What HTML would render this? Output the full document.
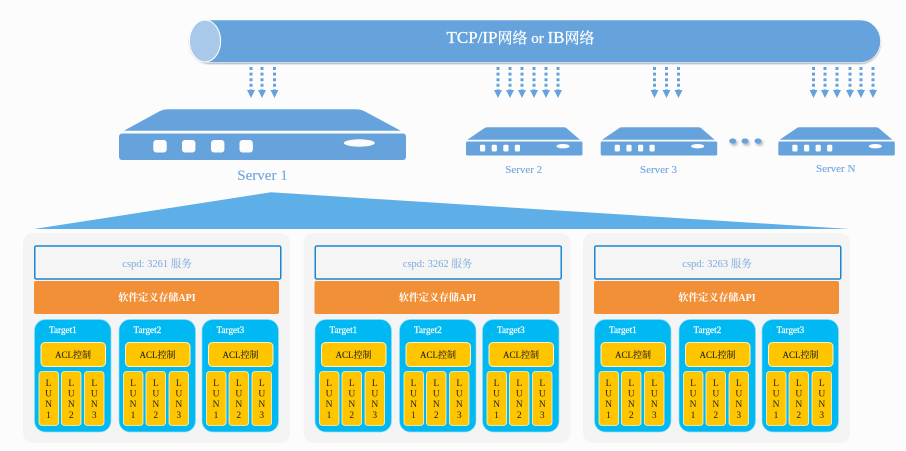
<!DOCTYPE html>
<html lang="zh">
<head>
<meta charset="utf-8">
<title>Storage Architecture</title>
<style>
html,body{margin:0;padding:0;background:#fcfcfd;width:906px;height:451px;overflow:hidden}
svg{display:block}
text{font-family:"Liberation Serif","Noto Serif CJK SC",serif}
.srv{fill:#66a3dc}
.w{fill:#fcfcfd}
.lab{fill:#6ea6dc;text-anchor:middle;stroke:#6ea6dc;stroke-width:.12}
.panel{fill:#f4f4f4}
.svc{fill:#f5f5f5;stroke:#1c86d2;stroke-width:1.5}
.svct{fill:#7ba8dc;font-size:10.5px;text-anchor:middle}
.api{fill:#f29038}
.apit{fill:#fff;font-size:10px;font-weight:bold;text-anchor:middle}
.tg{fill:#00b9f2;stroke:#8fdcf7;stroke-width:.7}
.tt{fill:#fff;font-size:9.200px;stroke:#fff;stroke-width:.2}
.acl{fill:#ffc600;stroke:#fff2c4;stroke-width:1}
.aclt{fill:#222;font-size:9px;text-anchor:middle;stroke:#222;stroke-width:.1}
.l{fill:#ffc600;stroke:#fff2c4;stroke-width:.8}
.lt{fill:#222;font-size:9.500px;text-anchor:middle}
.dash{stroke:#66a3dc;stroke-width:3;stroke-dasharray:3 2.600;fill:none}
.head{fill:#66a3dc}
</style>
</head>
<body>
<svg width="906" height="451" viewBox="0 0 906 451" xmlns="http://www.w3.org/2000/svg">
<defs>
<filter id="sh" x="-5%" y="-20%" width="110%" height="150%"><feDropShadow dx="0" dy="1.200" stdDeviation="0.800" flood-color="#777" flood-opacity=".6"/></filter>
<filter id="sd" x="-60%" y="-60%" width="260%" height="300%"><feDropShadow dx="1.500" dy="2" stdDeviation="1.200" flood-color="#777" flood-opacity=".55"/></filter>
</defs>
<rect width="906" height="451" fill="#fcfcfd"/>

<!-- Network cylinder -->
<rect x="189.500" y="20" width="691" height="42.500" rx="20" ry="21" fill="#66a3dc" stroke="#fff" stroke-width=".6" filter="url(#sh)"/>
<ellipse cx="205" cy="41" rx="15.600" ry="21" fill="#a9c9ea" stroke="#fff" stroke-width="1"/>
<text x="520.500" y="43" fill="#fff" stroke="#fff" stroke-width=".25" text-anchor="middle"><tspan font-size="17">TCP/IP</tspan><tspan font-size="15">网络</tspan><tspan font-size="15"> or </tspan><tspan font-size="17">IB</tspan><tspan font-size="15">网络</tspan></text>

<!-- Arrows -->
<g class="dash">
<path d="M251 67V90M262 67V90M274.500 67V90"/>
<path d="M498 67V90M510 67V90M522 67V90M534 67V90M546 67V90M558 67V90"/>
<path d="M654.500 67V90M666.500 67V90M678.500 67V90"/>
<path d="M813.500 67V90M825 67V90M837 67V90M850 67V90M861 67V90M873 67V90"/>
</g>
<g class="head">
<path d="M247 90h8l-4 8zM258 90h8l-4 8zM270.500 90h8l-4 8z"/>
<path d="M494 90h8l-4 8zM506 90h8l-4 8zM518 90h8l-4 8zM530 90h8l-4 8zM542 90h8l-4 8zM554 90h8l-4 8z"/>
<path d="M650.500 90h8l-4 8zM662.500 90h8l-4 8zM674.500 90h8l-4 8z"/>
<path d="M809.500 90h8l-4 8zM821 90h8l-4 8zM833 90h8l-4 8zM846 90h8l-4 8zM857 90h8l-4 8zM869 90h8l-4 8z"/>
</g>

<!-- Server 1 -->
<path class="srv" d="M124 130.700L160 111Q164 109.300 168 109.300H355Q360 109.300 364 111L400.700 130.700Z"/>
<rect class="srv" x="119" y="133.500" width="287" height="26.500" rx="3"/>
<g class="w">
<rect x="153.300" y="140" width="13.400" height="12.500" rx="3"/>
<rect x="182" y="140" width="13.400" height="12.500" rx="3"/>
<rect x="211" y="140" width="13.400" height="12.500" rx="3"/>
<rect x="239.500" y="140" width="13.400" height="12.500" rx="3"/>
<ellipse cx="359.300" cy="143" rx="15.500" ry="3.700"/>
</g>
<text class="lab" x="262.500" y="180" font-size="15">Server 1</text>

<!-- Server 2 -->
<g>
<path class="srv" d="M467.300 139.700L485 127.800Q486 127.300 488 127.300H563Q565 127.300 566 127.800L580 139.700Z"/>
<rect class="srv" x="466" y="141.500" width="116.500" height="14" rx="1.500"/>
<g class="w"><rect x="480" y="144.700" width="5.200" height="6.800" rx="1.200"/><rect x="491.700" y="144.700" width="5.200" height="6.800" rx="1.200"/><rect x="503.300" y="144.700" width="5.200" height="6.800" rx="1.200"/><rect x="514.800" y="144.700" width="5.200" height="6.800" rx="1.200"/><ellipse cx="563" cy="146.200" rx="6.500" ry="2.200"/></g>
</g>
<text class="lab" x="523.700" y="173" font-size="11">Server 2</text>

<!-- Server 3 -->
<g transform="translate(134.700 0)">
<path class="srv" d="M467.300 139.700L485 127.800Q486 127.300 488 127.300H563Q565 127.300 566 127.800L580 139.700Z"/>
<rect class="srv" x="466" y="141.500" width="116.500" height="14" rx="1.500"/>
<g class="w"><rect x="480" y="144.700" width="5.200" height="6.800" rx="1.200"/><rect x="491.700" y="144.700" width="5.200" height="6.800" rx="1.200"/><rect x="503.300" y="144.700" width="5.200" height="6.800" rx="1.200"/><rect x="514.800" y="144.700" width="5.200" height="6.800" rx="1.200"/><ellipse cx="563" cy="146.200" rx="6.500" ry="2.200"/></g>
</g>
<text class="lab" x="658.500" y="173" font-size="11">Server 3</text>

<!-- Dots -->
<g class="srv" filter="url(#sd)">
<ellipse cx="732.700" cy="141" rx="3.500" ry="2.600"/>
<ellipse cx="745" cy="141" rx="3.500" ry="2.600"/>
<ellipse cx="758" cy="141" rx="3.500" ry="2.600"/>
</g>

<!-- Server N -->
<g transform="translate(312.300 0)">
<path class="srv" d="M467.300 139.700L485 127.800Q486 127.300 488 127.300H563Q565 127.300 566 127.800L580 139.700Z"/>
<rect class="srv" x="466" y="141.500" width="116.500" height="14" rx="1.500"/>
<g class="w"><rect x="480" y="144.700" width="5.200" height="6.800" rx="1.200"/><rect x="491.700" y="144.700" width="5.200" height="6.800" rx="1.200"/><rect x="503.300" y="144.700" width="5.200" height="6.800" rx="1.200"/><rect x="514.800" y="144.700" width="5.200" height="6.800" rx="1.200"/><ellipse cx="563" cy="146.200" rx="6.500" ry="2.200"/></g>
</g>
<text class="lab" x="835.700" y="172" font-size="11">Server N</text>

<!-- Fan -->
<path d="M34 229L271 192.300L850 229Z" fill="#5eaee8"/>

<!-- Panel 1 -->
<g>
<rect class="panel" x="23" y="233" width="267" height="210" rx="10"/>
<rect class="svc" x="34.750" y="246" width="246" height="33" rx="1.500"/>
<text class="svct" x="157" y="267">cspd: 3261 服务</text>
<rect class="api" x="34" y="281" width="245" height="33" rx="2"/>
<text class="apit" x="157" y="301">软件定义存储API</text>

<g>
<rect class="tg" x="34.500" y="319.500" width="76.500" height="112.500" rx="11"/>
<text class="tt" x="49" y="333">Target1</text>
<rect class="acl" x="41" y="342.500" width="64.500" height="24" rx="4"/>
<text class="aclt" x="73" y="358">ACL控制</text>
<rect class="l" x="39" y="371.500" width="19.500" height="54" rx="3"/>
<rect class="l" x="61.500" y="371.500" width="19.500" height="54" rx="3"/>
<rect class="l" x="84.500" y="371.500" width="19.500" height="54" rx="3"/>
<text class="lt" x="48.500 48.500 48.500 48.500" y="386 396.500 407 418">LUN1</text>
<text class="lt" x="71.300 71.300 71.300 71.300" y="386 396.500 407 418">LUN2</text>
<text class="lt" x="94.300 94.300 94.300 94.300" y="386 396.500 407 418">LUN3</text>
</g>
<g transform="translate(84.500 0)">
<rect class="tg" x="34.500" y="319.500" width="76.500" height="112.500" rx="11"/>
<text class="tt" x="49" y="333">Target2</text>
<rect class="acl" x="41" y="342.500" width="64.500" height="24" rx="4"/>
<text class="aclt" x="73" y="358">ACL控制</text>
<rect class="l" x="39" y="371.500" width="19.500" height="54" rx="3"/>
<rect class="l" x="61.500" y="371.500" width="19.500" height="54" rx="3"/>
<rect class="l" x="84.500" y="371.500" width="19.500" height="54" rx="3"/>
<text class="lt" x="48.500 48.500 48.500 48.500" y="386 396.500 407 418">LUN1</text>
<text class="lt" x="71.300 71.300 71.300 71.300" y="386 396.500 407 418">LUN2</text>
<text class="lt" x="94.300 94.300 94.300 94.300" y="386 396.500 407 418">LUN3</text>
</g>
<g transform="translate(167.500 0)">
<rect class="tg" x="34.500" y="319.500" width="76.500" height="112.500" rx="11"/>
<text class="tt" x="49" y="333">Target3</text>
<rect class="acl" x="41" y="342.500" width="64.500" height="24" rx="4"/>
<text class="aclt" x="73" y="358">ACL控制</text>
<rect class="l" x="39" y="371.500" width="19.500" height="54" rx="3"/>
<rect class="l" x="61.500" y="371.500" width="19.500" height="54" rx="3"/>
<rect class="l" x="84.500" y="371.500" width="19.500" height="54" rx="3"/>
<text class="lt" x="48.500 48.500 48.500 48.500" y="386 396.500 407 418">LUN1</text>
<text class="lt" x="71.300 71.300 71.300 71.300" y="386 396.500 407 418">LUN2</text>
<text class="lt" x="94.300 94.300 94.300 94.300" y="386 396.500 407 418">LUN3</text>
</g>
</g>

<!-- Panel 2 -->
<g transform="translate(280.500 0)">
<rect class="panel" x="23" y="233" width="267" height="210" rx="10"/>
<rect class="svc" x="34.750" y="246" width="246" height="33" rx="1.500"/>
<text class="svct" x="157" y="267">cspd: 3262 服务</text>
<rect class="api" x="34" y="281" width="245" height="33" rx="2"/>
<text class="apit" x="157" y="301">软件定义存储API</text>

<g>
<rect class="tg" x="34.500" y="319.500" width="76.500" height="112.500" rx="11"/>
<text class="tt" x="49" y="333">Target1</text>
<rect class="acl" x="41" y="342.500" width="64.500" height="24" rx="4"/>
<text class="aclt" x="73" y="358">ACL控制</text>
<rect class="l" x="39" y="371.500" width="19.500" height="54" rx="3"/>
<rect class="l" x="61.500" y="371.500" width="19.500" height="54" rx="3"/>
<rect class="l" x="84.500" y="371.500" width="19.500" height="54" rx="3"/>
<text class="lt" x="48.500 48.500 48.500 48.500" y="386 396.500 407 418">LUN1</text>
<text class="lt" x="71.300 71.300 71.300 71.300" y="386 396.500 407 418">LUN2</text>
<text class="lt" x="94.300 94.300 94.300 94.300" y="386 396.500 407 418">LUN3</text>
</g>
<g transform="translate(84.500 0)">
<rect class="tg" x="34.500" y="319.500" width="76.500" height="112.500" rx="11"/>
<text class="tt" x="49" y="333">Target2</text>
<rect class="acl" x="41" y="342.500" width="64.500" height="24" rx="4"/>
<text class="aclt" x="73" y="358">ACL控制</text>
<rect class="l" x="39" y="371.500" width="19.500" height="54" rx="3"/>
<rect class="l" x="61.500" y="371.500" width="19.500" height="54" rx="3"/>
<rect class="l" x="84.500" y="371.500" width="19.500" height="54" rx="3"/>
<text class="lt" x="48.500 48.500 48.500 48.500" y="386 396.500 407 418">LUN1</text>
<text class="lt" x="71.300 71.300 71.300 71.300" y="386 396.500 407 418">LUN2</text>
<text class="lt" x="94.300 94.300 94.300 94.300" y="386 396.500 407 418">LUN3</text>
</g>
<g transform="translate(167.500 0)">
<rect class="tg" x="34.500" y="319.500" width="76.500" height="112.500" rx="11"/>
<text class="tt" x="49" y="333">Target3</text>
<rect class="acl" x="41" y="342.500" width="64.500" height="24" rx="4"/>
<text class="aclt" x="73" y="358">ACL控制</text>
<rect class="l" x="39" y="371.500" width="19.500" height="54" rx="3"/>
<rect class="l" x="61.500" y="371.500" width="19.500" height="54" rx="3"/>
<rect class="l" x="84.500" y="371.500" width="19.500" height="54" rx="3"/>
<text class="lt" x="48.500 48.500 48.500 48.500" y="386 396.500 407 418">LUN1</text>
<text class="lt" x="71.300 71.300 71.300 71.300" y="386 396.500 407 418">LUN2</text>
<text class="lt" x="94.300 94.300 94.300 94.300" y="386 396.500 407 418">LUN3</text>
</g>
</g>

<!-- Panel 3 -->
<g transform="translate(560 0)">
<rect class="panel" x="23" y="233" width="267" height="210" rx="10"/>
<rect class="svc" x="34.750" y="246" width="246" height="33" rx="1.500"/>
<text class="svct" x="157" y="267">cspd: 3263 服务</text>
<rect class="api" x="34" y="281" width="245" height="33" rx="2"/>
<text class="apit" x="157" y="301">软件定义存储API</text>

<g>
<rect class="tg" x="34.500" y="319.500" width="76.500" height="112.500" rx="11"/>
<text class="tt" x="49" y="333">Target1</text>
<rect class="acl" x="41" y="342.500" width="64.500" height="24" rx="4"/>
<text class="aclt" x="73" y="358">ACL控制</text>
<rect class="l" x="39" y="371.500" width="19.500" height="54" rx="3"/>
<rect class="l" x="61.500" y="371.500" width="19.500" height="54" rx="3"/>
<rect class="l" x="84.500" y="371.500" width="19.500" height="54" rx="3"/>
<text class="lt" x="48.500 48.500 48.500 48.500" y="386 396.500 407 418">LUN1</text>
<text class="lt" x="71.300 71.300 71.300 71.300" y="386 396.500 407 418">LUN2</text>
<text class="lt" x="94.300 94.300 94.300 94.300" y="386 396.500 407 418">LUN3</text>
</g>
<g transform="translate(84.500 0)">
<rect class="tg" x="34.500" y="319.500" width="76.500" height="112.500" rx="11"/>
<text class="tt" x="49" y="333">Target2</text>
<rect class="acl" x="41" y="342.500" width="64.500" height="24" rx="4"/>
<text class="aclt" x="73" y="358">ACL控制</text>
<rect class="l" x="39" y="371.500" width="19.500" height="54" rx="3"/>
<rect class="l" x="61.500" y="371.500" width="19.500" height="54" rx="3"/>
<rect class="l" x="84.500" y="371.500" width="19.500" height="54" rx="3"/>
<text class="lt" x="48.500 48.500 48.500 48.500" y="386 396.500 407 418">LUN1</text>
<text class="lt" x="71.300 71.300 71.300 71.300" y="386 396.500 407 418">LUN2</text>
<text class="lt" x="94.300 94.300 94.300 94.300" y="386 396.500 407 418">LUN3</text>
</g>
<g transform="translate(167.500 0)">
<rect class="tg" x="34.500" y="319.500" width="76.500" height="112.500" rx="11"/>
<text class="tt" x="49" y="333">Target3</text>
<rect class="acl" x="41" y="342.500" width="64.500" height="24" rx="4"/>
<text class="aclt" x="73" y="358">ACL控制</text>
<rect class="l" x="39" y="371.500" width="19.500" height="54" rx="3"/>
<rect class="l" x="61.500" y="371.500" width="19.500" height="54" rx="3"/>
<rect class="l" x="84.500" y="371.500" width="19.500" height="54" rx="3"/>
<text class="lt" x="48.500 48.500 48.500 48.500" y="386 396.500 407 418">LUN1</text>
<text class="lt" x="71.300 71.300 71.300 71.300" y="386 396.500 407 418">LUN2</text>
<text class="lt" x="94.300 94.300 94.300 94.300" y="386 396.500 407 418">LUN3</text>
</g>
</g>
</svg>
</body>
</html>
